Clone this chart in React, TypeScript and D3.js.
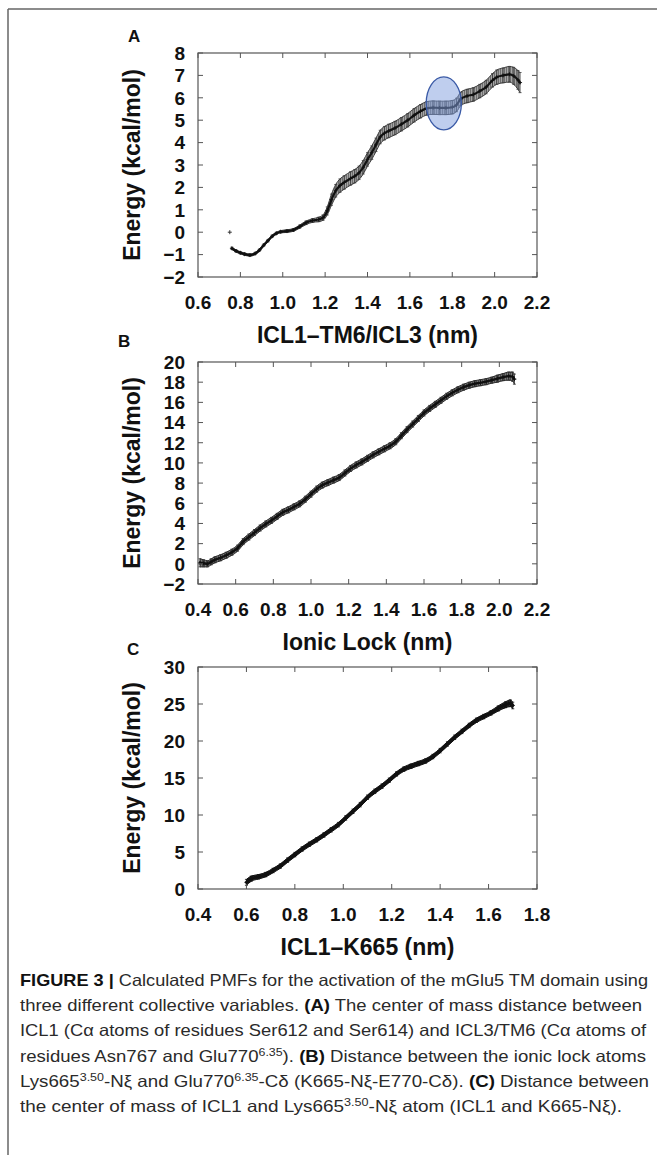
import * as d3 from "d3";

const W = 657;
const H = 1155;
const FONT = "'Liberation Sans', Arial, Helvetica, sans-serif";
const LEFT = 198;
const RIGHT = 537;

// Panel A: ICL1-TM6/ICL3 distance
const aX = [0.76, 0.78, 0.8, 0.82, 0.845, 0.87, 0.89, 0.91, 0.93, 0.95, 0.97, 0.99, 1.02, 1.05, 1.08, 1.11, 1.14, 1.17, 1.19, 1.21, 1.23, 1.25, 1.27, 1.29, 1.32, 1.34, 1.36, 1.38, 1.4, 1.42, 1.44, 1.46, 1.48, 1.5, 1.53, 1.56, 1.59, 1.62, 1.65, 1.68, 1.71, 1.74, 1.77, 1.8, 1.82, 1.84, 1.87, 1.9, 1.93, 1.96, 1.99, 2.01, 2.04, 2.07, 2.09, 2.11, 2.12];
const aY = [-0.72, -0.84, -0.92, -0.98, -1.02, -0.95, -0.8, -0.58, -0.38, -0.18, -0.05, 0.02, 0.05, 0.1, 0.25, 0.42, 0.52, 0.57, 0.65, 0.95, 1.45, 1.85, 2.08, 2.22, 2.4, 2.5, 2.65, 2.9, 3.25, 3.55, 3.9, 4.25, 4.42, 4.52, 4.65, 4.82, 5.0, 5.22, 5.4, 5.53, 5.56, 5.55, 5.55, 5.58, 5.68, 5.95, 6.08, 6.15, 6.3, 6.48, 6.78, 6.92, 7.0, 7.05, 6.98, 6.8, 6.68];
const aErr = [0.05, 0.05, 0.05, 0.05, 0.05, 0.05, 0.05, 0.05, 0.05, 0.05, 0.05, 0.05, 0.06, 0.06, 0.07, 0.08, 0.08, 0.1, 0.12, 0.18, 0.25, 0.28, 0.3, 0.3, 0.3, 0.3, 0.3, 0.3, 0.3, 0.3, 0.3, 0.3, 0.3, 0.3, 0.3, 0.3, 0.3, 0.3, 0.3, 0.3, 0.3, 0.3, 0.3, 0.3, 0.3, 0.3, 0.3, 0.3, 0.3, 0.3, 0.3, 0.32, 0.33, 0.35, 0.38, 0.42, 0.45];
const aLone = [0.75, 0.0];
const aXTicks = [0.6, 0.8, 1.0, 1.2, 1.4, 1.6, 1.8, 2.0, 2.2];
const aYTicks = [-2, -1, 0, 1, 2, 3, 4, 5, 6, 7, 8];
const aHighlight = { cx: 1.76, cy: 5.75, rx: 0.083, ry: 1.18 };

// Panel B: ionic lock distance
const bX = [0.41, 0.43, 0.45, 0.47, 0.49, 0.52, 0.55, 0.58, 0.61, 0.64, 0.67, 0.7, 0.73, 0.76, 0.79, 0.82, 0.85, 0.88, 0.91, 0.94, 0.97, 1.0, 1.03, 1.06, 1.09, 1.12, 1.15, 1.18, 1.21, 1.24, 1.27, 1.3, 1.33, 1.36, 1.39, 1.42, 1.45, 1.48, 1.51, 1.54, 1.57, 1.6, 1.63, 1.66, 1.69, 1.72, 1.75, 1.78, 1.81, 1.84, 1.87, 1.9, 1.93, 1.96, 1.99, 2.02, 2.05, 2.07, 2.08];
const bY = [0.1, 0.05, 0.0, 0.2, 0.4, 0.6, 0.85, 1.15, 1.55, 2.2, 2.65, 3.1, 3.55, 3.95, 4.3, 4.7, 5.1, 5.35, 5.65, 5.95, 6.4, 6.9, 7.4, 7.8, 8.05, 8.3, 8.55, 9.0, 9.45, 9.8, 10.1, 10.45, 10.8, 11.1, 11.4, 11.7, 12.1, 12.7, 13.3, 13.85, 14.4, 14.95, 15.4, 15.8, 16.2, 16.6, 16.95, 17.25, 17.5, 17.7, 17.85, 17.95, 18.05, 18.2, 18.35, 18.5, 18.6, 18.55, 18.3];
const bErr = [0.4, 0.35, 0.3, 0.3, 0.3, 0.3, 0.3, 0.3, 0.3, 0.3, 0.3, 0.3, 0.3, 0.3, 0.3, 0.3, 0.3, 0.3, 0.3, 0.3, 0.3, 0.3, 0.3, 0.3, 0.3, 0.3, 0.3, 0.3, 0.3, 0.3, 0.3, 0.3, 0.3, 0.3, 0.3, 0.3, 0.3, 0.3, 0.3, 0.3, 0.3, 0.3, 0.3, 0.3, 0.3, 0.3, 0.3, 0.3, 0.3, 0.3, 0.3, 0.3, 0.3, 0.3, 0.35, 0.35, 0.4, 0.45, 0.5];
const bXTicks = [0.4, 0.6, 0.8, 1.0, 1.2, 1.4, 1.6, 1.8, 2.0, 2.2];
const bYTicks = [-2, 0, 2, 4, 6, 8, 10, 12, 14, 16, 18, 20];

// Panel C: ICL1-K665 distance
const cX = [0.6, 0.62, 0.65, 0.68, 0.71, 0.74, 0.77, 0.8, 0.83, 0.86, 0.89, 0.92, 0.95, 0.98, 1.01, 1.04, 1.07, 1.1, 1.13, 1.16, 1.19, 1.22, 1.25, 1.28, 1.31, 1.34, 1.37, 1.4, 1.43, 1.46, 1.49, 1.52, 1.55, 1.58, 1.61, 1.64, 1.67, 1.69, 1.7];
const cY = [0.9, 1.4, 1.65, 1.95, 2.5, 3.1, 3.9, 4.65, 5.4, 6.05, 6.65, 7.3, 8.0, 8.7, 9.6, 10.5, 11.4, 12.4, 13.2, 13.9, 14.7, 15.55, 16.2, 16.6, 16.95, 17.3, 17.9, 18.7, 19.6, 20.5, 21.3, 22.1, 22.8, 23.3, 23.8, 24.4, 24.9, 25.1, 24.8];
const cErr = [0.4, 0.35, 0.3, 0.3, 0.3, 0.3, 0.3, 0.3, 0.3, 0.3, 0.3, 0.3, 0.3, 0.3, 0.3, 0.3, 0.3, 0.3, 0.3, 0.3, 0.3, 0.3, 0.3, 0.3, 0.3, 0.3, 0.3, 0.3, 0.3, 0.3, 0.3, 0.3, 0.3, 0.3, 0.3, 0.35, 0.4, 0.45, 0.45];
const cXTicks = [0.4, 0.6, 0.8, 1.0, 1.2, 1.4, 1.6, 1.8];
const cYTicks = [0, 5, 10, 15, 20, 25, 30];

const captionLines = [
	[{ t: "FIGURE 3 | ", b: true }, { t: "Calculated PMFs for the activation of the mGlu5 TM domain using" }],
	[{ t: "three different collective variables. " }, { t: "(A)", b: true }, { t: " The center of mass distance between" }],
	[{ t: "ICL1 (Cα atoms of residues Ser612 and Ser614) and ICL3/TM6 (Cα atoms of" }],
	[{ t: "residues Asn767 and Glu770" }, { t: "6.35", s: true }, { t: "). " }, { t: "(B)", b: true }, { t: " Distance between the ionic lock atoms" }],
	[{ t: "Lys665" }, { t: "3.50", s: true }, { t: "-Nξ and Glu770" }, { t: "6.35", s: true }, { t: "-Cδ (K665-Nξ-E770-Cδ). " }, { t: "(C)", b: true }, { t: " Distance between" }],
	[{ t: "the center of mass of ICL1 and Lys665" }, { t: "3.50", s: true }, { t: "-Nξ atom (ICL1 and K665-Nξ)." }],
];
const captionWidths = [628, 622, 626, 626, 629, 602];

const Panel = ({ id, top, bottom, xDomain, yDomain, xTicks, yTicks, xFmt, xs, ys, errs, label, labelX, labelY, xTitle, band, stripe, edge, lineWidth, lone, highlight }) => {
	const x = d3.scaleLinear().domain(xDomain).range([LEFT, RIGHT]);
	const y = d3.scaleLinear().domain(yDomain).range([bottom, top]);
	const pts = xs.map((v, i) => ({ x: v, y: ys[i], e: errs[i] }));
	const curve = d3.curveMonotoneX;

	const area = d3.area().x((d) => x(d.x)).y0((d) => y(d.y - d.e)).y1((d) => y(d.y + d.e)).curve(curve);
	const upper = d3.line().x((d) => x(d.x)).y((d) => y(d.y + d.e)).curve(curve);
	const lower = d3.line().x((d) => x(d.x)).y((d) => y(d.y - d.e)).curve(curve);
	const mid = d3.line().x((d) => x(d.x)).y((d) => y(d.y)).curve(curve);
	const yFmt = d3.format("d");
	const tick = 5;

	return (
		<g>
			<defs>
				<pattern id={`stripe-${id}`} width={2} height={4} patternUnits="userSpaceOnUse">
					<rect width={2} height={4} fill={band} />
					<line x1={0.5} y1={0} x2={0.5} y2={4} stroke={stripe} strokeWidth={1} />
				</pattern>
			</defs>
			{/* error band */}
			<path d={area(pts)} fill={`url(#stripe-${id})`} />
			<g stroke={edge} strokeWidth={0.8}>
				{pts.map((d, i) => (
					<g key={i}>
						<line x1={x(d.x)} x2={x(d.x)} y1={y(d.y - d.e)} y2={y(d.y + d.e)} />
						<line x1={x(d.x) - 1.5} x2={x(d.x) + 1.5} y1={y(d.y + d.e)} y2={y(d.y + d.e)} />
						<line x1={x(d.x) - 1.5} x2={x(d.x) + 1.5} y1={y(d.y - d.e)} y2={y(d.y - d.e)} />
					</g>
				))}
			</g>
			<path d={upper(pts)} fill="none" stroke={edge} strokeWidth={1} />
			<path d={lower(pts)} fill="none" stroke={edge} strokeWidth={1} />
			<path d={mid(pts)} fill="none" stroke="#111" strokeWidth={lineWidth} strokeLinecap="round" />
			<g stroke="#111" strokeWidth={0.9}>
				{pts.map((d, i) => (
					<g key={i}>
						<line x1={x(d.x) - 2} x2={x(d.x) + 2} y1={y(d.y)} y2={y(d.y)} />
						<line x1={x(d.x)} x2={x(d.x)} y1={y(d.y) - 2} y2={y(d.y) + 2} />
					</g>
				))}
			</g>
			{lone && (
				<g stroke="#333" strokeWidth={1}>
					<line x1={x(lone[0]) - 2} x2={x(lone[0]) + 2} y1={y(lone[1])} y2={y(lone[1])} />
					<line x1={x(lone[0])} x2={x(lone[0])} y1={y(lone[1]) - 2} y2={y(lone[1]) + 2} />
				</g>
			)}
			{highlight && (
				<ellipse
					cx={x(highlight.cx)}
					cy={y(highlight.cy)}
					rx={x(highlight.cx + highlight.rx) - x(highlight.cx)}
					ry={y(highlight.cy) - y(highlight.cy + highlight.ry)}
					fill="#7f9ede"
					fillOpacity={0.5}
					stroke="#3a5aa6"
					strokeWidth={1.3}
				/>
			)}
			{/* frame and mirrored inward ticks */}
			<rect x={LEFT} y={top} width={RIGHT - LEFT} height={bottom - top} fill="none" stroke="#555" strokeWidth={1.2} />
			<g stroke="#555" strokeWidth={1}>
				{xTicks.map((t) => (
					<g key={t}>
						<line x1={x(t)} x2={x(t)} y1={bottom} y2={bottom - tick} />
						<line x1={x(t)} x2={x(t)} y1={top} y2={top + tick} />
					</g>
				))}
				{yTicks.map((t) => (
					<g key={t}>
						<line x1={LEFT} x2={LEFT + tick} y1={y(t)} y2={y(t)} />
						<line x1={RIGHT} x2={RIGHT - tick} y1={y(t)} y2={y(t)} />
					</g>
				))}
			</g>
			<g fontFamily={FONT} fontWeight="bold" fill="#111">
				{xTicks.map((t) => (
					<text key={t} x={x(t)} y={bottom + 32} textAnchor="middle" fontSize={19}>
						{xFmt(t)}
					</text>
				))}
				{yTicks.map((t) => (
					<text key={t} x={LEFT - 13} y={y(t)} dy="0.36em" textAnchor="end" fontSize={19}>
						{yFmt(t)}
					</text>
				))}
				<text x={(LEFT + RIGHT) / 2} y={bottom + 66} textAnchor="middle" fontSize={23}>
					{xTitle}
				</text>
				<text transform={`translate(140,${(top + bottom) / 2}) rotate(-90)`} textAnchor="middle" fontSize={23}>
					Energy (kcal/mol)
				</text>
				<text x={labelX} y={labelY} fontSize={17}>
					{label}
				</text>
			</g>
		</g>
	);
};

const App = () => {
	const fmt1 = d3.format(".1f");
	return (
		<svg width={W} height={H} viewBox={`0 0 ${W} ${H}`} style={{ position: "absolute", left: 0, top: 0, background: "#fff" }}>
			<rect width={W} height={H} fill="#fff" />
			<line x1={8} x2={W} y1={9} y2={9} stroke="#666" strokeWidth={1.5} />
			<line x1={8} x2={8} y1={9} y2={H} stroke="#666" strokeWidth={1.5} />

			<Panel id="a" top={53} bottom={277} xDomain={[0.6, 2.2]} yDomain={[-2, 8]} xTicks={aXTicks} yTicks={aYTicks} xFmt={fmt1}
				xs={aX} ys={aY} errs={aErr} label="A" labelX={128} labelY={42} xTitle="ICL1–TM6/ICL3 (nm)"
				band="#a6a6a6" stripe="#6e6e6e" edge="#3c3c3c" lineWidth={2.2} lone={aLone} highlight={aHighlight} />
			<Panel id="b" top={362} bottom={584} xDomain={[0.4, 2.2]} yDomain={[-2, 20]} xTicks={bXTicks} yTicks={bYTicks} xFmt={fmt1}
				xs={bX} ys={bY} errs={bErr} label="B" labelX={118} labelY={347} xTitle="Ionic Lock (nm)"
				band="#7a7a7a" stripe="#4a4a4a" edge="#2e2e2e" lineWidth={2.4} />
			<Panel id="c" top={667} bottom={889} xDomain={[0.4, 1.8]} yDomain={[0, 30]} xTicks={cXTicks} yTicks={cYTicks} xFmt={fmt1}
				xs={cX} ys={cY} errs={cErr} label="C" labelX={127} labelY={655} xTitle="ICL1–K665 (nm)"
				band="#303030" stripe="#1a1a1a" edge="#111" lineWidth={3} />

			<g fontFamily={FONT} fontSize={16.5} fill="#2a2a2a">
				{captionLines.map((line, li) => {
					let prevSup = false;
					return (
						<text key={li} x={20} y={986 + li * 25.2} textLength={captionWidths[li]} lengthAdjust="spacingAndGlyphs">
							{line.map((seg, si) => {
								const dy = seg.s ? -6 : prevSup ? 6 : 0;
								prevSup = !!seg.s;
								return (
									<tspan key={si} dy={dy || undefined} fontWeight={seg.b ? "bold" : "normal"} fontSize={seg.s ? 11 : undefined} fill={seg.b ? "#111" : undefined}>
										{seg.t}
									</tspan>
								);
							})}
						</text>
					);
				})}
			</g>
		</svg>
	);
};

export default App;
